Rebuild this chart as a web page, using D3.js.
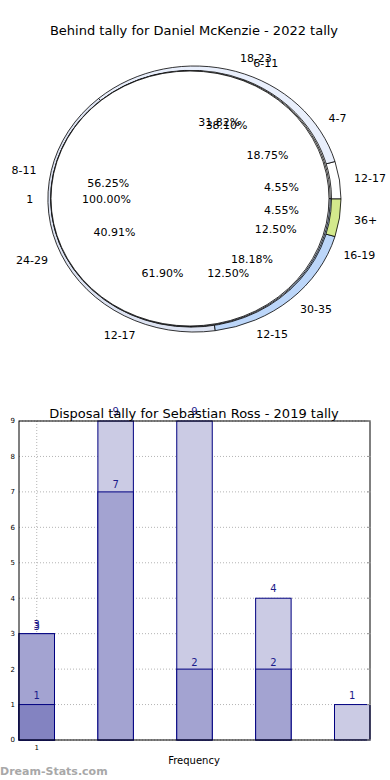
<!DOCTYPE html>
<html>
<head>
<meta charset="utf-8">
<script src="https://cdn.jsdelivr.net/npm/d3@7"></script>
<style>
  body { margin: 0; background: #fff; }
  svg { display: block; font-family: 'DejaVu Sans', sans-serif; }
</style>
</head>
<body>
<svg id="chart" width="390" height="780"></svg>
<script>
// pie data: four pies drawn on top of each other
const pieALabels = ['12-17', '18-23', '24-29', '30-35', '36+']
const pieAValues = [1, 7, 9, 4, 1]
const pieBLabels = ['4-7', '8-11', '12-15', '16-19']
const pieBValues = [3, 9, 2, 2]
const pieCLabels = ['6-11', '12-17']
const pieCValues = [8, 13]
const pieDLabels = ['1']
const pieDValues = [1]

// bar data
const barCategories = [1, 2, 3, 4, 5]
const barLight = [3, 9, 9, 4, 1]
const barMedium = [3, 7, 2, 2, 0]
const barDark = [1, 0, 0, 0, 0]
const yTicks = [0, 1, 2, 3, 4, 5, 6, 7, 8, 9]

const pieColors = ['#ffffff', '#e9effc', '#dde3f2', '#bcd6f9', '#d3e98c']

document.addEventListener('DOMContentLoaded', function () {
  const svg = d3.select('#chart')
  drawPies(svg)
  drawBars(svg)
})

function drawPies(svg) {
  svg.append('text')
    .attr('x', 194).attr('y', 35)
    .attr('text-anchor', 'middle')
    .attr('font-size', 13)
    .text('Behind tally for Daniel McKenzie - 2022 tally')

  // text positions share one frame, wedges are slightly shifted
  const lab = { cx: 194.5, cy: 199, rx: 146.5, ry: 133 }
  const pies = [
    { labels: pieALabels, values: pieAValues, cx: 194.5, cy: 199, rx: 146.5, ry: 133 },
    { labels: pieBLabels, values: pieBValues, cx: 191, cy: 198.7, rx: 140.5, ry: 128.4 },
    { labels: pieCLabels, values: pieCValues, cx: 190.5, cy: 198.6, rx: 139.7, ry: 127.9 },
    { labels: pieDLabels, values: pieDValues, cx: 190, cy: 198.5, rx: 139, ry: 127.5 }
  ]

  const pie = d3.pie().sort(null).startAngle(Math.PI / 2).endAngle(Math.PI / 2 - 2 * Math.PI)
  const arc = d3.arc().innerRadius(0).outerRadius(1)
  const texts = svg.append('g')

  pies.forEach(p => {
    const arcs = pie(p.values)
    const total = d3.sum(p.values)
    const g = svg.append('g')
      .attr('transform', `translate(${p.cx},${p.cy}) scale(${p.rx},${p.ry})`)
    g.selectAll('path')
      .data(arcs)
      .join('path')
      .attr('d', arc)
      .attr('fill', (d, i) => pieColors[i % pieColors.length])
      .attr('stroke', '#000')
      .attr('stroke-width', 0.8)
      .attr('vector-effect', 'non-scaling-stroke')

    arcs.forEach((d, i) => {
      const a = (d.startAngle + d.endAngle) / 2
      const sx = Math.sin(a), sy = Math.cos(a)
      texts.append('text')
        .attr('x', lab.cx + lab.rx * 1.1 * sx)
        .attr('y', lab.cy - lab.ry * 1.1 * sy)
        .attr('dy', '0.35em')
        .attr('text-anchor', sx > 0 ? 'start' : 'end')
        .attr('font-size', 11)
        .text(p.labels[i])
      texts.append('text')
        .attr('x', lab.cx + lab.rx * 0.6 * sx)
        .attr('y', lab.cy - lab.ry * 0.6 * sy)
        .attr('dy', '0.35em')
        .attr('text-anchor', 'middle')
        .attr('font-size', 11)
        .text(d3.format('.2f')(d.value / total * 100) + '%')
    })
  })
  texts.raise()
}

function drawBars(svg) {
  const left = 19, right = 370, top = 421, bottom = 740

  const x = d3.scaleLinear().domain([0.775, 5.225]).range([left, right])
  const y = d3.scaleLinear().domain([0, 9]).range([bottom, top])
  const barW = x(1.45) - x(1)

  const g = svg.append('g')

  // grid
  g.selectAll('.hgrid')
    .data(yTicks)
    .join('line')
    .attr('x1', left).attr('x2', right)
    .attr('y1', d => y(d)).attr('y2', d => y(d))
    .attr('stroke', '#b4b4b4')
    .attr('stroke-dasharray', '1,2')
  g.append('line')
    .attr('x1', x(1)).attr('x2', x(1))
    .attr('y1', top).attr('y2', bottom)
    .attr('stroke', '#b4b4b4')
    .attr('stroke-dasharray', '1,2')

  const series = [
    { values: barLight, color: '#cbcbe4', off: 9.5 },
    { values: barMedium, color: '#a3a3d1', off: 7 },
    { values: barDark, color: '#8383c1', off: 9 }
  ]

  series.forEach(s => {
    const data = barCategories.map((c, i) => ({ c: c, v: s.values[i] })).filter(d => d.v > 0)
    g.append('g')
      .selectAll('rect')
      .data(data)
      .join('rect')
      .attr('x', d => x(d.c) - barW / 2)
      .attr('y', d => y(d.v))
      .attr('width', barW)
      .attr('height', d => y(0) - y(d.v))
      .attr('fill', s.color)
      .attr('stroke', '#000080')
      .attr('stroke-width', 1)
  })

  series.forEach(s => {
    const data = barCategories.map((c, i) => ({ c: c, v: s.values[i] })).filter(d => d.v > 0)
    g.append('g')
      .selectAll('text')
      .data(data)
      .join('text')
      .attr('x', d => x(d.c))
      .attr('y', d => y(d.v) - s.off)
      .attr('dy', '0.35em')
      .attr('text-anchor', 'middle')
      .attr('font-size', 10)
      .attr('fill', '#1c1c8a')
      .text(d => d.v)
  })

  // frame
  g.append('rect')
    .attr('x', left).attr('y', top)
    .attr('width', right - left).attr('height', bottom - top)
    .attr('fill', 'none')
    .attr('stroke', '#000')
    .attr('stroke-width', 1)

  // y ticks
  g.selectAll('.ytick')
    .data(yTicks)
    .join('text')
    .attr('x', 15)
    .attr('y', d => y(d))
    .attr('dy', '0.35em')
    .attr('text-anchor', 'end')
    .attr('font-size', 7)
    .text(d => d)
  g.selectAll('.ytickr')
    .data(yTicks)
    .join('line')
    .attr('x1', right - 3).attr('x2', right + 1)
    .attr('y1', d => y(d)).attr('y2', d => y(d))
    .attr('stroke', '#999')

  g.append('text')
    .attr('x', x(1)).attr('y', 748)
    .attr('dy', '0.35em')
    .attr('text-anchor', 'middle')
    .attr('font-size', 7)
    .text('1')

  g.append('text')
    .attr('x', 194).attr('y', 764)
    .attr('text-anchor', 'middle')
    .attr('font-size', 10)
    .text('Frequency')

  svg.append('text')
    .attr('x', 194).attr('y', 418)
    .attr('text-anchor', 'middle')
    .attr('font-size', 13)
    .text('Disposal tally for Sebastian Ross - 2019 tally')

  svg.append('text')
    .attr('x', 0).attr('y', 775)
    .attr('font-size', 11)
    .attr('font-weight', 'bold')
    .attr('fill', '#a8a8a8')
    .text('Dream-Stats.com')
}
</script>
</body>
</html>
